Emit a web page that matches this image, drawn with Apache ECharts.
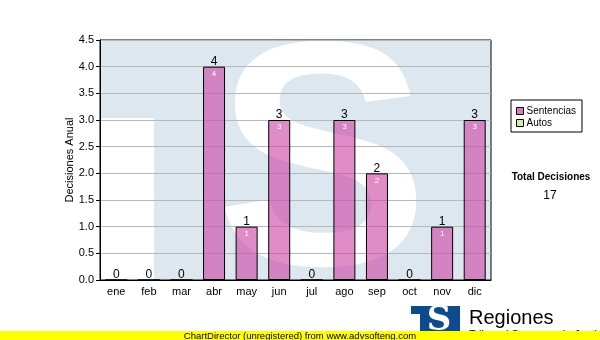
<!DOCTYPE html>
<html><head><meta charset="utf-8">
<script src="https://cdn.jsdelivr.net/npm/echarts@6/dist/echarts.min.js"></script>
<style>html,body{margin:0;padding:0;background:#fff}#c{width:600px;height:340px}</style>
</head><body><div id="c"></div>
<script>
const months = ['ene','feb','mar','abr','may','jun','jul','ago','sep','oct','nov','dic'];
const sentencias = [0,0,0,4,1,3,0,3,2,0,1,3];
const autos = [0,0,0,0,0,0,0,0,0,0,0,0];
const seriesNames = ['Sentencias','Autos'];
const yMin = 0, yMax = 4.5, yStep = 0.5;
const totalLabel = 'Total Decisiones';
const totalValue = 17;

const FONT = '"Liberation Sans", Arial, sans-serif';
const WM = '#dde7f0';

const chart = echarts.init(document.getElementById('c'), null, {renderer:'canvas'});
chart.setOption({
  animation: false,
  backgroundColor: '#fff',
  textStyle: {fontFamily: FONT},
  grid: {left: 100, top: 40, right: 109, bottom: 60, show: true, borderColor: '#000', borderWidth: 1, backgroundColor: 'transparent'},
  legend: {
    orient: 'vertical', left: 511, top: 100, icon: 'rect',
    itemWidth: 7, itemHeight: 7, itemGap: 2,
    padding: [6, 6, 4, 5],
    borderColor: '#000', borderWidth: 1,
    textStyle: {fontSize: 10, color: '#000', fontFamily: FONT, padding: [0,0,0,-2]},
    data: [
      {name: seriesNames[0], itemStyle: {color: '#dc7cc0', borderColor: '#000', borderWidth: 1}},
      {name: seriesNames[1], itemStyle: {color: '#d8eca4', borderColor: '#000', borderWidth: 1}}
    ]
  },
  xAxis: {
    type: 'category', data: months,
    axisLine: {lineStyle: {color: '#000', width: 1}},
    axisTick: {alignWithLabel: true, length: 4, lineStyle: {color: '#000'}},
    axisLabel: {color: '#000', fontSize: 11, margin: 6, fontFamily: FONT},
    splitLine: {show: false}
  },
  yAxis: {
    type: 'value', min: yMin, max: yMax, interval: yStep,
    name: 'Decisiones Anual', nameLocation: 'middle', nameGap: 25, nameMoveOverlap: false,
    nameTextStyle: {color: '#000', fontSize: 11, fontFamily: FONT},
    axisLine: {show: true, lineStyle: {color: '#000', width: 1}},
    axisTick: {show: true, length: 4, lineStyle: {color: '#000'}},
    axisLabel: {color: '#000', fontSize: 11, margin: 6, fontFamily: FONT, formatter: v => v.toFixed(1)},
    splitLine: {lineStyle: {color: '#b8b8b8', width: 1}}
  },
  series: [
    {
      name: seriesNames[0], type: 'bar', stack: 't', data: sentencias, barWidth: 22,
      itemStyle: {color: 'rgba(205,70,165,0.62)', borderColor: '#000', borderWidth: 1},
      label: {show: true, position: 'insideTop', distance: 3, color: '#fff', fontSize: 8, fontFamily: FONT,
        formatter: p => p.value ? String(p.value) : ''}
    },
    {
      name: seriesNames[1], type: 'bar', stack: 't', data: autos, barWidth: 22,
      itemStyle: {color: '#d8eca4', borderWidth: 0},
      label: {show: true, position: 'top', distance: -1, color: '#000', fontSize: 12, fontFamily: FONT,
        formatter: p => String(sentencias[p.dataIndex] + autos[p.dataIndex])}
    }
  ],
  graphic: [
    // watermark
    {type: 'rect', z: -10, silent: true, shape: {x: 100, y: 40, width: 391, height: 240}, style: {fill: WM}},
    {type: 'rect', z: -10, silent: true, shape: {x: 100, y: 118, width: 54, height: 162}, style: {fill: '#fff'}},
    {type: 'text', z: -9, silent: true, style: {text: 'S', x: 322, y: 176, textAlign: 'center', textVerticalAlign: 'middle',
      font: 'bold 320px "Liberation Sans", Arial, sans-serif', fill: '#fff'}},
    {type: 'rect', z: -8, silent: true, shape: {x: 90, y: 280.5, width: 420, height: 50}, style: {fill: '#fff'}},
    {type: 'rect', z: -8, silent: true, shape: {x: 90, y: 0, width: 420, height: 39.5}, style: {fill: '#fff'}},
    // totals
    {type: 'text', z: 5, style: {text: totalLabel, x: 551, y: 177, textAlign: 'center', textVerticalAlign: 'middle', font: 'bold 10px ' + FONT, fill: '#000'}},
    {type: 'text', z: 5, style: {text: String(totalValue), x: 550, y: 196, textAlign: 'center', textVerticalAlign: 'middle', font: '12px ' + FONT, fill: '#000'}},
    // logo
    {type: 'rect', z: 5, shape: {x: 411, y: 306, width: 49, height: 26}, style: {fill: '#0e4a8e'}},
    {type: 'rect', z: 6, shape: {x: 411, y: 314, width: 9, height: 18}, style: {fill: '#fff'}},
    {type: 'text', z: 6, style: {text: 'S', x: 439, y: 321, textAlign: 'center', textVerticalAlign: 'middle', font: 'bold 34px "DejaVu Serif", serif', fill: '#fff'}},
    {type: 'text', z: 5, style: {text: 'Regiones', x: 469, y: 318, textAlign: 'left', textVerticalAlign: 'middle', font: '20px ' + FONT, fill: '#000'}},
    {type: 'text', z: 5, style: {text: 'Tribunal Supremo de Justicia', x: 469, y: 335, textAlign: 'left', textVerticalAlign: 'middle', font: '11px ' + FONT, fill: '#000'}},
    // footer
    {type: 'rect', z: 10, shape: {x: 0, y: 331, width: 600, height: 9}, style: {fill: '#ffff00'}},
    {type: 'text', z: 11, style: {text: 'ChartDirector (unregistered) from www.advsofteng.com', x: 300, y: 336, textAlign: 'center', textVerticalAlign: 'middle', font: '9.5px ' + FONT, fill: '#000'}}
  ]
});
</script>
</body></html>
